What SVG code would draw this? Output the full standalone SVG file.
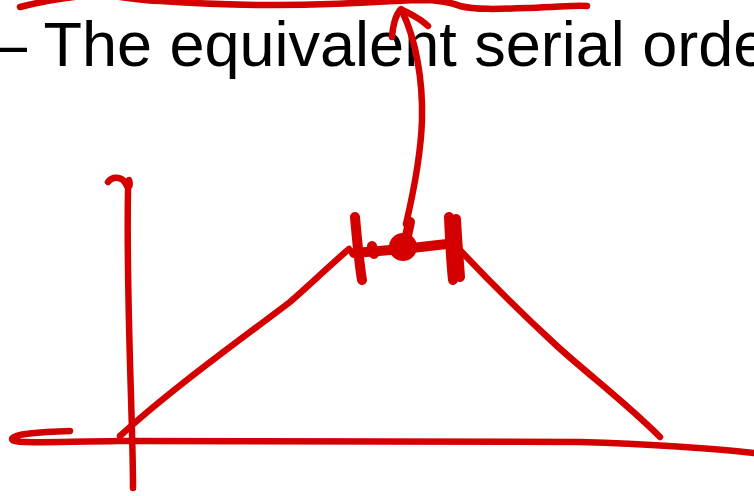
<svg xmlns="http://www.w3.org/2000/svg" width="754" height="496" viewBox="0 0 754 496">
<style>
.ink{fill:none;stroke:#d40000;stroke-width:6.5;stroke-linecap:round;stroke-linejoin:round}
.thick{stroke-width:10}
.txt{font-family:"Liberation Sans",Arial,sans-serif;font-size:63px;fill:#000}
</style>
<rect width="754" height="496" fill="#fff"/>
<text class="txt" x="-8" y="66">– The equivalent serial orde</text>
<g id="scribble-top">
<path class="ink" d="M20,7 C40,2 70,-4 100,-5 C120,-4 135,0 160,1 C220,5 280,6 330,4 C360,3 390,1 420,0 C440,0 450,2 460,6 C475,10 500,9 530,8 C560,7 575,5 587,6" stroke-width="7"/>
</g>
<g id="arrow">
<path class="ink" d="M406,224 C414,190 421,150 422,120 C423,80 416,40 402,11"/>
<path class="ink" d="M392,37 C393,25 396,14 401,9 C410,14 420,18 428,26"/>
</g>
<g id="node">
<circle cx="403" cy="247" r="14" fill="#d40000"/>
<path class="ink thick" d="M354,253 L403,249 L447,244"/>
<path class="ink thick" d="M355,217 C357,240 359,262 362,280"/>
<path class="ink thick" d="M449,217 C450,240 451,262 453,280"/>
<path class="ink thick" d="M456,219 C457,240 459,262 460,277"/>
<path class="ink thick" d="M407,236 L410,222"/>
<path class="ink thick" d="M372,246 L374,254"/>
</g>
<g id="axes">
<path class="ink" d="M133,488 C133,420 126,300 128,190"/>
<path class="ink" d="M108,182 C112,176 122,176 126,184 C128,190 131,186 129,180" stroke-width="7"/>
<path class="ink" d="M70,431 C40,432 12,434 12,439 C12,444 40,442 120,441 L580,442 Q680,445 754,453"/>
</g>
<g id="curve">
<path class="ink" d="M349,249 C330,265 310,285 290,302 C240,340 170,390 120,436"/>
<path class="ink" d="M458,248 C490,282 520,312 557,346 C590,376 625,402 660,437"/>
</g>
</svg>
